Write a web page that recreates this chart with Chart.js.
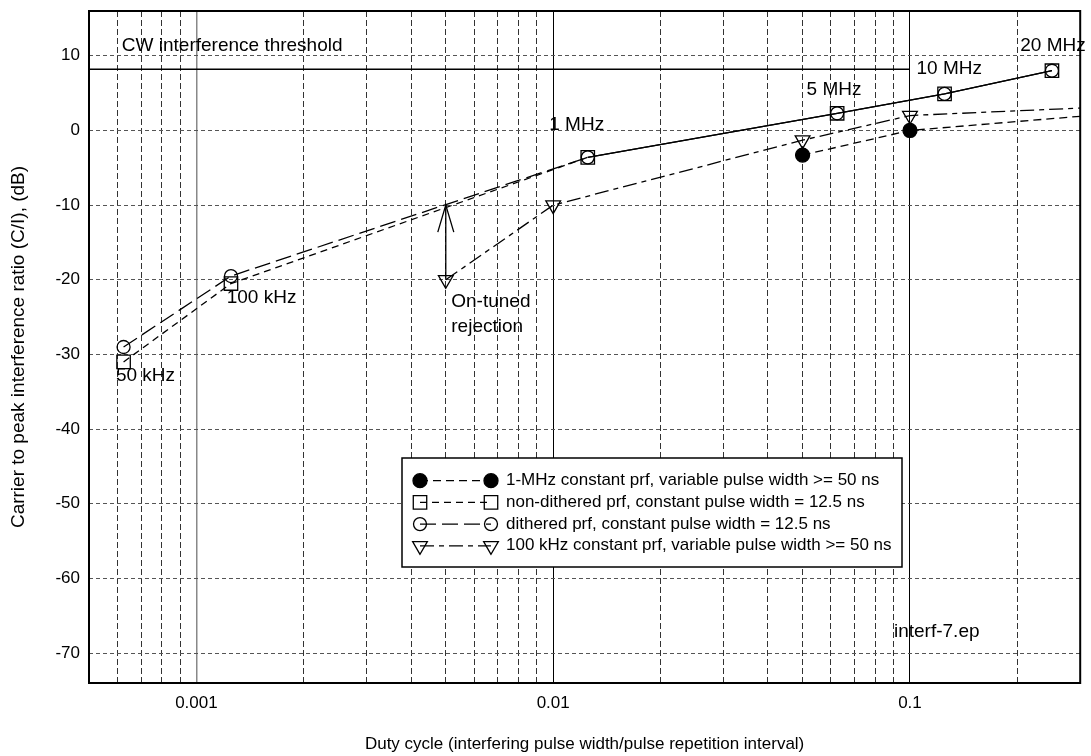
<!DOCTYPE html>
<html>
<head>
<meta charset="utf-8">
<script src="https://cdn.jsdelivr.net/npm/chart.js@4.4.1/dist/chart.umd.min.js"></script>
<style>
html,body{margin:0;padding:0;background:#fff;}
canvas{display:block;}
</style>
</head>
<body>
<canvas id="c" width="1091" height="756"></canvas>
<script>
const FONT = '"Liberation Sans", Arial, Helvetica, sans-serif';

// ---------- data ----------
const seriesLabels = [
  '1-MHz constant prf, variable pulse width >= 50 ns',
  'non-dithered prf, constant pulse width = 12.5 ns',
  'dithered prf, constant pulse width = 12.5 ns',
  '100 kHz constant prf, variable pulse width >= 50 ns'
];
// constant 12.5 ns pulse width: duty = 12.5 ns x prf
const pulseDuty      = [0.000625, 0.00125, 0.0125, 0.0625, 0.125, 0.25];
const pulsePrfLabels = ['50 kHz', '100 kHz', '1 MHz', '5 MHz', '10 MHz', '20 MHz'];
const nonDitheredCI  = [-31, -20.5, -3.6, 2.3, 4.9, 8.0];
const ditheredCI     = [-29, -19.5, -3.6, 2.3, 4.9, 8.0];
// 1 MHz constant prf
const mhzDuty = [0.05, 0.1, 0.3];
const mhzCI   = [-3.3, 0.0, 1.9];
// 100 kHz constant prf
const khzDuty = [0.005, 0.01, 0.05, 0.1, 0.3];
const khzCI   = [-20, -10, -1.3, 2.0, 3.0];
// CW threshold
const cwDuty = [0.0005, 0.1];
const cwCI   = [8.2, 8.2];
// on-tuned rejection arrow
const arrowDuty = 0.005;
const arrowFrom = -20;
const arrowTo   = -10;

// axes
const xMin = 0.0005, xMax = 0.3;
const yMin = -74, yMax = 16;
const xMajorTicks  = [0.001, 0.01, 0.1];
const xMajorLabels = ['0.001', '0.01', '0.1'];
const xMinorTicks  = [0.0006, 0.0007, 0.0008, 0.0009,
  0.002, 0.003, 0.004, 0.005, 0.006, 0.007, 0.008, 0.009,
  0.02, 0.03, 0.04, 0.05, 0.06, 0.07, 0.08, 0.09, 0.2];
const yTicks = [-70, -60, -50, -40, -30, -20, -10, 0, 10];

// text annotations (data coordinates of text left / middle)
const annTexts = ['CW interference threshold', '50 kHz', '100 kHz', '1 MHz', '5 MHz', '10 MHz', '20 MHz', 'On-tuned', 'rejection', 'interf-7.ep'];
const annX = [0.000618, 0.000595, 0.001216, 0.00975, 0.0513, 0.1043, 0.2037, 0.00518, 0.00518, 0.0902];
const annY = [11.3, -32.8, -22.4, 0.75, 5.5, 8.2, 11.3, -22.9, -26.3, -67.2];

// ---------- styles ----------
const styles = [
  {dash: [8, 5],          point: 'circle',   r: 7,   fill: '#000'},
  {dash: [7, 5],          point: 'rect',     r: 9.5, fill: 'rgba(0,0,0,0)'},
  {dash: [16, 6],         point: 'circle',   r: 6.5, fill: 'rgba(0,0,0,0)'},
  {dash: [14, 5, 5, 5],   point: 'triangle', r: 8.5, fill: 'rgba(0,0,0,0)', rot: 180}
];

const xy = (xs, ys) => xs.map((v, i) => ({x: v, y: ys[i]}));
const isMajor = v => xMajorTicks.includes(v);

function makeDs(i, data, radii, solidFrom) {
  const s = styles[i];
  const ds = {
    label: seriesLabels[i],
    data: data,
    showLine: true,
    borderColor: '#000',
    borderWidth: 1.3,
    borderDash: s.dash,
    pointStyle: s.point,
    pointRadius: radii,
    pointRotation: s.rot || 0,
    pointBackgroundColor: s.fill,
    pointBorderColor: '#000',
    pointBorderWidth: 1.3,
    fill: false,
    tension: 0
  };
  if (solidFrom !== undefined) {
    ds.segment = {borderDash: c => c.p0DataIndex >= solidFrom ? [] : undefined};
  }
  return ds;
}

const datasets = [
  {label: 'CW interference threshold', data: xy(cwDuty, cwCI), showLine: true, borderColor: '#000', borderWidth: 1.3, pointRadius: 0, fill: false},
  makeDs(3, xy(khzDuty, khzCI), khzDuty.map(v => v >= xMax ? 0 : styles[3].r)),
  makeDs(0, xy(mhzDuty, mhzCI), mhzDuty.map(v => v >= xMax ? 0 : styles[0].r)),
  makeDs(1, xy(pulseDuty, nonDitheredCI), styles[1].r, 2),
  makeDs(2, xy(pulseDuty, ditheredCI), styles[2].r, 2)
];

// ---------- overlay plugin ----------
function drawMarker(ctx, s, x, y) {
  ctx.save();
  ctx.setLineDash([]);
  ctx.lineWidth = 1.3;
  ctx.strokeStyle = '#000';
  ctx.fillStyle = s.fill;
  ctx.beginPath();
  if (s.point === 'circle') {
    ctx.arc(x, y, s.r, 0, Math.PI * 2);
  } else if (s.point === 'rect') {
    const h = s.r * Math.SQRT1_2;
    ctx.rect(x - h, y - h, 2 * h, 2 * h);
  } else {
    let rad = (s.rot || 0) * Math.PI / 180;
    ctx.moveTo(x + Math.sin(rad) * s.r, y - Math.cos(rad) * s.r);
    rad += 2 * Math.PI / 3;
    ctx.lineTo(x + Math.sin(rad) * s.r, y - Math.cos(rad) * s.r);
    rad += 2 * Math.PI / 3;
    ctx.lineTo(x + Math.sin(rad) * s.r, y - Math.cos(rad) * s.r);
    ctx.closePath();
  }
  ctx.fill();
  ctx.stroke();
  ctx.restore();
}

const overlay = {
  id: 'overlay',
  afterDatasetsDraw(chart) {
    const {ctx, chartArea: a, scales: {x, y}} = chart;
    ctx.save();
    // arrow
    const ax = x.getPixelForValue(arrowDuty);
    const y0 = y.getPixelForValue(arrowFrom);
    const y1 = y.getPixelForValue(arrowTo);
    ctx.strokeStyle = '#000';
    ctx.lineWidth = 1.3;
    ctx.setLineDash([]);
    ctx.beginPath();
    ctx.moveTo(ax, y0);
    ctx.lineTo(ax, y1);
    ctx.stroke();
    ctx.beginPath();
    ctx.moveTo(ax - 8, y1 + 27);
    ctx.lineTo(ax, y1);
    ctx.lineTo(ax + 8, y1 + 27);
    ctx.stroke();
    // frame
    ctx.lineWidth = 2;
    ctx.strokeRect(a.left, a.top, a.right - a.left, a.bottom - a.top);
    // annotations
    ctx.font = '19px ' + FONT;
    ctx.fillStyle = '#000';
    ctx.textAlign = 'left';
    ctx.textBaseline = 'middle';
    annTexts.forEach((t, i) => ctx.fillText(t, x.getPixelForValue(annX[i]), y.getPixelForValue(annY[i])));
    // legend
    const L = {left: 402, top: 458, w: 500, h: 109, row0: 480.7, rowH: 21.7, m1: 420, m2: 491, tx: 506};
    ctx.fillStyle = '#fff';
    ctx.fillRect(L.left, L.top, L.w, L.h);
    ctx.strokeStyle = '#000';
    ctx.lineWidth = 1.5;
    ctx.strokeRect(L.left, L.top, L.w, L.h);
    ctx.font = '17px ' + FONT;
    for (let i = 0; i < seriesLabels.length; i++) {
      const ry = L.row0 + i * L.rowH;
      const s = styles[i];
      ctx.save();
      ctx.lineWidth = 1.3;
      ctx.setLineDash(s.dash);
      ctx.beginPath();
      ctx.moveTo(L.m1, ry);
      ctx.lineTo(L.m2, ry);
      ctx.stroke();
      ctx.restore();
      drawMarker(ctx, s, L.m1, ry);
      drawMarker(ctx, s, L.m2, ry);
      ctx.fillStyle = '#000';
      ctx.textBaseline = 'middle';
      ctx.fillText(seriesLabels[i], L.tx, ry);
    }
    ctx.restore();
  }
};

Chart.defaults.color = '#000';
Chart.defaults.font.family = FONT;

new Chart(document.getElementById('c'), {
  type: 'scatter',
  data: {datasets},
  options: {
    responsive: false,
    devicePixelRatio: 1,
    animation: false,
    events: [],
    layout: {padding: {top: 11, right: 9, left: 0, bottom: 0}},
    plugins: {legend: {display: false}, tooltip: {enabled: false}},
    scales: {
      x: {
        type: 'logarithmic',
        min: xMin, max: xMax,
        afterBuildTicks: s => {
          s.ticks = xMinorTicks.concat(xMajorTicks).sort((a, b) => a - b).map(v => ({value: v, major: isMajor(v)}));
        },
        afterFit: s => { s.height = 73; s.paddingLeft = 0; s.paddingRight = 0; },
        ticks: {
          autoSkip: false, maxRotation: 0, minRotation: 0, padding: 10,
          font: {size: 17}, color: '#000',
          callback: v => { const k = xMajorTicks.indexOf(v); return k >= 0 ? xMajorLabels[k] : ''; }
        },
        grid: {
          drawTicks: false,
          color: c => (c.tick && isMajor(c.tick.value)) ? (c.tick.value === 0.001 ? '#888' : '#000') : '#333',
          lineWidth: c => (c.tick && c.tick.value === 0.001) ? 1.5 : 1
        },
        border: {display: false, dash: c => (c.tick && isMajor(c.tick.value)) ? [] : [6, 3]},
        title: {display: true, text: 'Duty cycle (interfering pulse width/pulse repetition interval)', font: {size: 17}, color: '#000', padding: {top: 0, bottom: 1}}
      },
      y: {
        type: 'linear',
        min: yMin, max: yMax,
        afterBuildTicks: s => { s.ticks = yTicks.map(v => ({value: v})); },
        afterFit: s => { s.width = 89; s.paddingTop = 0; s.paddingBottom = 0; },
        ticks: {padding: 9, font: {size: 17}, color: '#000', callback: v => String(v)},
        grid: {drawTicks: false, color: '#555', lineWidth: 1},
        border: {display: false, dash: [4, 3]},
        title: {display: true, text: 'Carrier to peak interference ratio (C/I), (dB)', font: {size: 19}, color: '#000', padding: {top: 7, bottom: 0}}
      }
    }
  },
  plugins: [overlay]
});
</script>
</body>
</html>
